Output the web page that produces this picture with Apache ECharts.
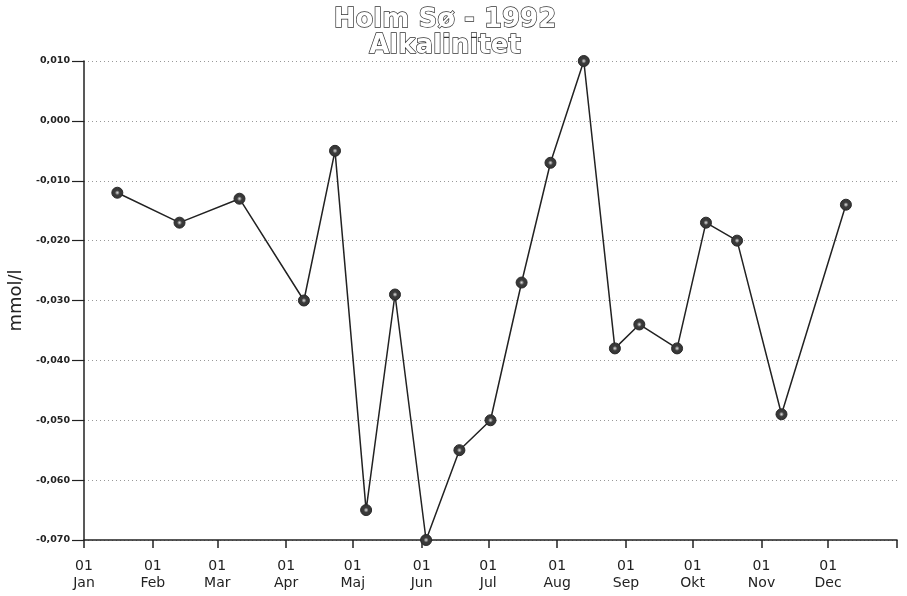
<!DOCTYPE html>
<html>
<head>
<meta charset="utf-8">
<title>Holm Sø - 1992 Alkalinitet</title>
<script src="https://cdn.jsdelivr.net/npm/echarts@6/dist/echarts.min.js"></script>
<style>
  html, body { margin: 0; padding: 0; background: #fff; }
  #chart { width: 907px; height: 596px; }
</style>
</head>
<body>
<div id="chart"></div>
<script>
// Sampling dates (1992) and measured alkalinity, mmol/l
const sampleDates = [
  '1992-01-16', '1992-02-13', '1992-03-11', '1992-04-09', '1992-04-23',
  '1992-05-07', '1992-05-20', '1992-06-03', '1992-06-18', '1992-07-02',
  '1992-07-16', '1992-07-29', '1992-08-13', '1992-08-27', '1992-09-07',
  '1992-09-24', '1992-10-07', '1992-10-21', '1992-11-10', '1992-12-09'
];
const alkalinity = [
  -0.012, -0.017, -0.013, -0.030, -0.005,
  -0.065, -0.029, -0.070, -0.055, -0.050,
  -0.027, -0.007, 0.010, -0.038, -0.034,
  -0.038, -0.017, -0.020, -0.049, -0.014
];
// Danish month abbreviations for the date axis
const monthNames = ['Jan', 'Feb', 'Mar', 'Apr', 'Maj', 'Jun', 'Jul', 'Aug', 'Sep', 'Okt', 'Nov', 'Dec'];
const yMin = -0.07, yMax = 0.01, yStep = 0.01;

const DAY = 86400000;
const toTime = (s) => {
  const p = s.split('-').map(Number);
  return Date.UTC(p[0], p[1] - 1, p[2]);
};
const monthStarts = monthNames.map((_, m) => Date.UTC(1992, m, 1));
const yearEnd = Date.UTC(1993, 0, 1);

const chart = echarts.init(document.getElementById('chart'), null, { renderer: 'canvas' });

const seriesData = sampleDates.map((d, i) => [toTime(d), alkalinity[i]]);

const axisFont = 'DejaVu Sans, sans-serif';

chart.setOption({
  animation: false,
  backgroundColor: '#ffffff',
  title: {
    text: 'Holm Sø - 1992\nAlkalinitet',
    left: 440,
    textAlign: 'center',
    top: 2,
    textStyle: {
      fontFamily: 'DejaVu Sans, sans-serif',
      fontSize: 26,
      fontWeight: 'bold',
      lineHeight: 26,
      color: '#ffffff',
      textBorderColor: '#333333',
      textBorderWidth: 1.4
    }
  },
  grid: { left: 84, right: 10, top: 61, bottom: 56, containLabel: false, outerBoundsMode: 'none' },
  xAxis: {
    type: 'value',
    min: monthStarts[0],
    max: yearEnd,
    axisLine: { show: true, onZero: false, lineStyle: { color: '#222', width: 1.5 } },
    axisTick: {
      show: true, inside: false, length: 8,
      customValues: monthStarts.concat([yearEnd]),
      lineStyle: { color: '#222', width: 1.5 }
    },
    axisLabel: {
      customValues: monthStarts,
      margin: 18,
      fontFamily: axisFont,
      fontSize: 14,
      lineHeight: 17,
      color: '#222',
      showMinLabel: true,
      formatter: (v) => '01\n' + monthNames[new Date(v + DAY / 2).getUTCMonth()]
    },
    splitLine: { show: false }
  },
  yAxis: {
    type: 'value',
    min: yMin,
    max: yMax,
    interval: yStep,
    name: 'mmol/l',
    nameLocation: 'middle',
    nameRotate: 90,
    nameGap: 52,
    nameTextStyle: { fontFamily: axisFont, fontSize: 18, color: '#222' },
    axisLine: { show: true, onZero: false, lineStyle: { color: '#222', width: 1.5 } },
    axisTick: { show: true, inside: false, length: 12, lineStyle: { color: '#222', width: 1.2 } },
    axisLabel: {
      margin: 14,
      fontFamily: axisFont,
      fontSize: 9.5,
      fontWeight: 'bold',
      color: '#222',
      formatter: (v) => {
        const s = Math.abs(v).toFixed(3).replace('.', ',');
        return (v < -1e-9 ? '-' : '') + s;
      }
    },
    splitLine: { show: true, lineStyle: { color: '#999', type: [1, 3], width: 1 } }
  },
  series: [{
    type: 'line',
    data: seriesData,
    symbol: 'circle',
    symbolSize: 11,
    lineStyle: { color: '#222', width: 1.5 },
    itemStyle: {
      color: {
        type: 'radial', x: 0.5, y: 0.5, r: 0.5,
        colorStops: [
          { offset: 0, color: '#e0e0e0' },
          { offset: 0.22, color: '#888888' },
          { offset: 0.4, color: '#3c3c3c' },
          { offset: 1, color: '#333333' }
        ]
      },
      borderColor: '#2a2a2a',
      borderWidth: 1
    },
    z: 3
  }]
});
</script>
</body>
</html>
